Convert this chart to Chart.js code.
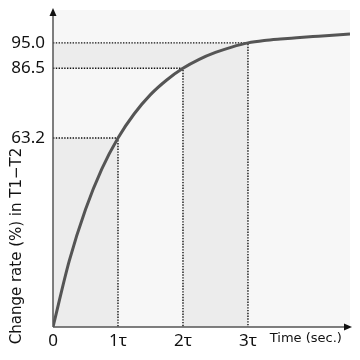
<!DOCTYPE html>
<html>
<head>
<meta charset="utf-8">
<script src="https://cdn.jsdelivr.net/npm/chart.js@4/dist/chart.umd.min.js"></script>
<style>
  html, body { margin: 0; padding: 0; background: #fff; }
  #wrap { width: 360px; height: 360px; }
</style>
</head>
<body>
<div id="wrap"><canvas id="chart" width="360" height="360"></canvas></div>
<script>
/* =========================
   DATA
========================= */
// time in units of tau, change rate in %
const timeTau = [0, 0.25, 0.5, 0.75, 1, 1.25, 1.5, 1.75, 2, 2.25, 2.5, 2.75, 3, 3.25, 3.5, 3.75, 4, 4.25, 4.57];
const changeRate = [0, 22.1, 39.3, 52.8, 63.2, 71.3, 77.7, 82.6, 86.5, 89.5, 91.8, 93.6, 95.0, 95.8, 96.3, 96.7, 97.1, 97.5, 98.0];

// marker levels: tau multiple and the rate reached there
const markTau = [1, 2, 3];
const markRate = [63.2, 86.5, 95.0];

const yTicks = [63.2, 86.5, 95.0];
const xTicks = [0, 1, 2, 3, 3.89];
const xTickLabels = ["0", "1\u03c4", "2\u03c4", "3\u03c4", "Time (sec.)"];

const yTitle = "Change rate (%) in T1\u2212T2";

/* =========================
   DATASETS
========================= */
const shade = '#ececec';
const pts = (xs, ys) => xs.map((x, i) => ({x: x, y: ys[i]}));

let datasets = [];

// curve
datasets.push({
    data: pts(timeTau, changeRate),
    borderColor: '#555',
    borderWidth: 3,
    pointRadius: 0,
    cubicInterpolationMode: 'monotone',
    fill: false,
    order: 0
});

// dotted guide lines
markTau.forEach((t, i) => {
    datasets.push({
        data: [{x: 0, y: markRate[i]}, {x: t, y: markRate[i]}, {x: t, y: 0}],
        borderColor: '#111',
        borderWidth: 1.4,
        borderDash: [1.4, 1.4],
        pointRadius: 0,
        tension: 0,
        fill: false,
        order: 1
    });
});

// shaded areas
datasets.push({   // 0..1 tau below 63.2
    data: [{x: 0, y: markRate[0]}, {x: markTau[0], y: markRate[0]}],
    borderWidth: 0, pointRadius: 0, backgroundColor: shade, fill: 'origin', order: 2
});
datasets.push({   // 2..3 tau below 95.0
    data: [{x: markTau[1], y: markRate[2]}, {x: markTau[2], y: markRate[2]}],
    borderWidth: 0, pointRadius: 0, backgroundColor: shade, fill: 'origin', order: 2
});
datasets.push({   // band 86.5..95.0 from 0 to 2 tau
    data: [{x: 0, y: markRate[2]}, {x: markTau[1], y: markRate[2]}],
    borderWidth: 0, pointRadius: 0, backgroundColor: shade, fill: {value: markRate[1]}, order: 2
});

/* =========================
   PLUGINS
========================= */
const plotBg = {
    id: 'plotBg',
    beforeDraw(chart){
        const a = chart.chartArea, ctx = chart.ctx;
        ctx.save();
        ctx.fillStyle = '#f7f7f7';
        ctx.fillRect(a.left, a.top, a.right - a.left, a.bottom - a.top);
        ctx.restore();
    }
};

const axesArrows = {
    id: 'axesArrows',
    afterDraw(chart){
        const a = chart.chartArea, ctx = chart.ctx;
        ctx.save();
        ctx.strokeStyle = '#555';
        ctx.fillStyle = '#111';
        ctx.lineWidth = 1.5;
        ctx.beginPath();
        ctx.moveTo(a.left, a.bottom);
        ctx.lineTo(a.left, a.top + 2);
        ctx.moveTo(a.left, a.bottom);
        ctx.lineTo(a.right - 2, a.bottom);
        ctx.stroke();
        // arrow heads
        ctx.beginPath();
        ctx.moveTo(a.left, a.top - 2);
        ctx.lineTo(a.left - 3.5, a.top + 6);
        ctx.lineTo(a.left + 3.5, a.top + 6);
        ctx.closePath();
        ctx.fill();
        ctx.beginPath();
        ctx.moveTo(a.right + 2, a.bottom);
        ctx.lineTo(a.right - 6, a.bottom - 3.5);
        ctx.lineTo(a.right - 6, a.bottom + 3.5);
        ctx.closePath();
        ctx.fill();
        // y title
        ctx.translate(17, 246);
        ctx.rotate(-Math.PI / 2);
        ctx.fillStyle = '#111';
        ctx.font = '15px "DejaVu Sans", sans-serif';
        ctx.textAlign = 'center';
        ctx.textBaseline = 'middle';
        ctx.fillText(yTitle, 0, 0);
        ctx.restore();
    }
};

/* =========================
   CHART
========================= */
new Chart(document.getElementById('chart'), {
    type: 'line',
    data: { datasets: datasets },
    options: {
        responsive: false,
        animation: false,
        layout: { padding: { top: 10, right: 10, left: 0, bottom: 0 } },
        plugins: { legend: { display: false }, tooltip: { enabled: false } },
        scales: {
            x: {
                type: 'linear',
                min: 0,
                max: 4.57,
                grid: { display: false, drawTicks: false },
                border: { display: false },
                afterBuildTicks(scale){
                    scale.ticks = xTicks.map(v => ({value: v}));
                },
                afterFit(scale){ scale.height = 33; scale.paddingLeft = 0; scale.paddingRight = 0; },
                ticks: {
                    autoSkip: false,
                    maxRotation: 0,
                    padding: 4,
                    color: '#111',
                    font: function(ctx){
                        return ctx.index === xTicks.length - 1
                            ? { family: '"DejaVu Sans", sans-serif', size: 13 }
                            : { family: '"Noto Sans", sans-serif', size: 17 };
                    },
                    callback: function(v, i){ return xTickLabels[i]; }
                }
            },
            y: {
                type: 'linear',
                min: 0,
                max: 106,
                grid: { display: false, drawTicks: false },
                border: { display: false },
                afterBuildTicks(scale){
                    scale.ticks = yTicks.map(v => ({value: v}));
                },
                afterFit(scale){ scale.width = 53; scale.paddingTop = 0; scale.paddingBottom = 0; },
                ticks: {
                    autoSkip: false,
                    padding: 8,
                    color: '#111',
                    font: { family: '"Noto Sans", sans-serif', size: 17 },
                    callback: function(v){ return Number(v).toFixed(1); }
                }
            }
        }
    },
    plugins: [plotBg, axesArrows]
});
</script>
</body>
</html>
